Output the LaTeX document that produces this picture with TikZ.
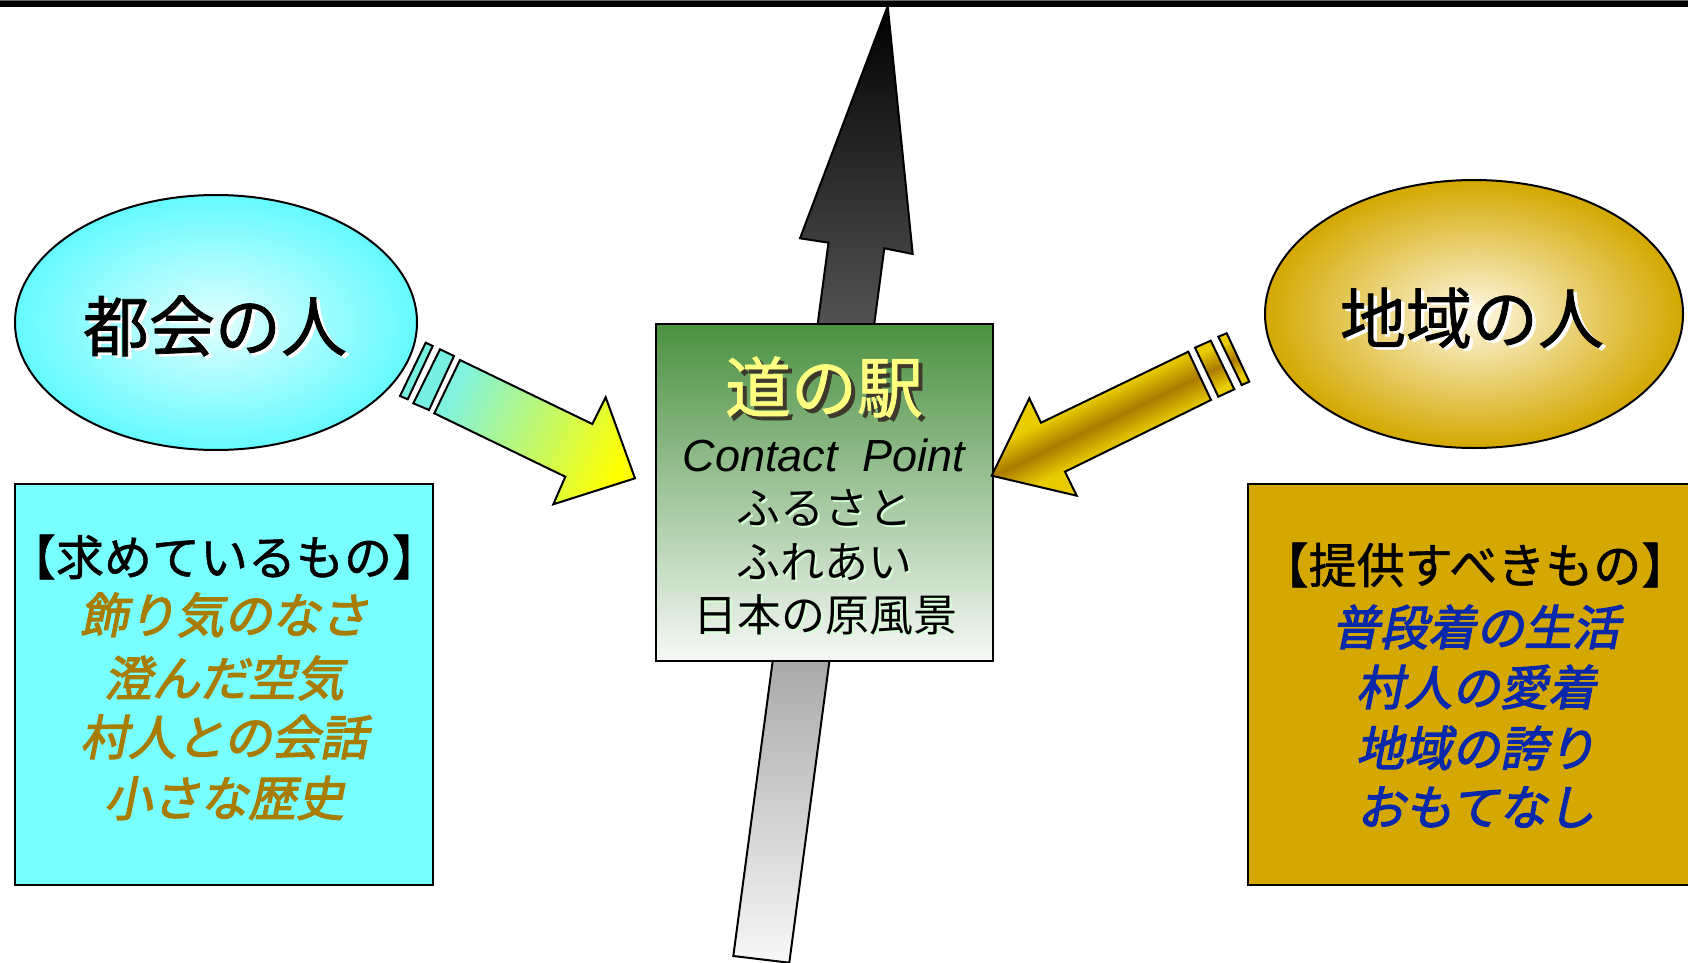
\documentclass[tikz,border=0pt]{standalone}
\usepackage{fontspec}
\setmainfont{Noto Sans CJK JP}
\newfontfamily\jpm[FakeBold=1.1]{Noto Sans CJK JP}
\newfontfamily\jpbi[FakeSlant=0.2,FakeBold=2.6]{Noto Sans CJK JP}
\newfontfamily\lib{Liberation Sans}
\usetikzlibrary{shapes.geometric}
\definecolor{cyanfill}{RGB}{120,255,255}
\definecolor{cyanedge}{RGB}{100,250,255}
\definecolor{cyancenter}{RGB}{225,255,255}
\definecolor{goldfill}{RGB}{212,168,0}
\definecolor{goldcenter}{RGB}{255,248,228}
\definecolor{greentop}{RGB}{75,145,65}
\definecolor{greenbot}{RGB}{246,249,246}
\definecolor{stationyellow}{RGB}{255,255,128}
\definecolor{brownlist}{RGB}{168,124,0}
\definecolor{bluelist}{RGB}{10,40,170}
\definecolor{aqua}{RGB}{128,242,222}
\definecolor{stripeaqua}{RGB}{118,240,225}
\definecolor{goldlight}{RGB}{232,204,0}
\definecolor{golddark}{RGB}{172,122,0}
\pgfdeclareverticalshading{goldband}{100bp}{color(0bp)=(goldlight); color(42bp)=(goldlight); color(50bp)=(golddark); color(58bp)=(goldlight); color(100bp)=(goldlight)}
\pgfdeclareverticalshading{goldbandwide}{100bp}{color(0bp)=(goldlight); color(30bp)=(goldlight); color(50bp)=(golddark); color(70bp)=(goldlight); color(100bp)=(goldlight)}
\tikzset{
  outl/.style={draw=black, line width=2pt, line join=miter},
  bigjp/.style={font=\jpm\fontsize{66}{70}\selectfont, inner sep=0pt},
  midjp/.style={font=\fontsize{44}{48}\selectfont, inner sep=0pt},
  headjp/.style={font=\jpm\fontsize{48}{52}\selectfont, inner sep=0pt},
  listjp/.style={font=\jpbi\fontsize{48}{52}\selectfont, inner sep=0pt},
  shadowtxt/.style={white!85!green},
  leftarrow/.style={outl, left color=aqua, right color=yellow, shading angle=64.2},
  goldarrow/.style={outl, shading=goldband, shading angle=25.7},
  goldstripe/.style={outl, shading=goldbandwide, shading angle=25.7},
}
\begin{document}
\begin{tikzpicture}[x=1pt,y=-1pt]
\useasboundingbox (0,0) rectangle (1688,963);
\fill[white] (0,0) rectangle (1688,963);
% top rule
\fill[black!60] (0,0) rectangle (1688,1.3);
\fill[black] (0,1.3) rectangle (1688,6.8);

% vertical arrow (behind the station box)
\path[outl, top color=black, middle color=black!45, bottom color=black!3]
  (733.3,956) -- (828.5,242.7) -- (800,238.3) -- (887.7,6) -- (912.7,254)
  -- (884.3,248.3) -- (789.3,962.7) -- cycle;

% ellipses
\node[ellipse, outl, inner color=cyancenter, outer color=cyanedge,
      minimum width=402pt, minimum height=255pt, inner sep=0pt] (city) at (216,322.5) {};
\node[ellipse, outl, inner color=goldcenter, outer color=goldfill,
      minimum width=418pt, minimum height=268pt, inner sep=0pt] (local) at (1474,314) {};
\node[bigjp, white] (citysh) at (218.5,328.5) {都会の人};
\node[bigjp] (citytxt) at (215,326) {都会の人};
\node[bigjp, white] (localsh) at (1475.5,320.5) {地域の人};
\node[bigjp] (localtxt) at (1472,318) {地域の人};

% station box
\node[outl, top color=greentop, bottom color=greenbot, minimum width=337pt,
      minimum height=337pt, inner sep=0pt] (station) at (824.5,492.5) {};
\node[bigjp, black!75!olive] (stsh) at (828,391) {道の駅};
\node[bigjp, stationyellow] (sttxt) at (824,387) {道の駅};
\node[font=\lib\itshape\fontsize{45}{48}\selectfont, inner sep=0pt] (cp) at (824,455) {Contact\ \ Point};
\node[midjp, shadowtxt] (l1sh) at (826,510) {ふるさと};
\node[midjp] (l1) at (824,508) {ふるさと};
\node[midjp, shadowtxt] (l2sh) at (826,564) {ふれあい};
\node[midjp] (l2) at (824,562) {ふれあい};
\node[midjp, shadowtxt] (l3sh) at (827,617) {日本の原風景};
\node[midjp] (l3) at (825,615) {日本の原風景};

% left block arrow with stripes
\path[leftarrow] (460,360) -- (592.3,424) -- (605.7,397.3) -- (635,478.3)
  -- (553.3,504.3) -- (565.3,476.7) -- (434.3,413.3) -- cycle;
\path[outl, fill=stripeaqua] (440,349.3) -- (454,356) -- (429,410) -- (413.3,403.3) -- cycle;
\path[outl, fill=stripeaqua] (425.7,342.7) -- (432.7,346) -- (407.7,399.3) -- (400,396) -- cycle;

% right block arrow with stripes
\path[goldarrow] (991.7,475.7) -- (1029.3,398.3) -- (1041,422.7) -- (1188.3,351.7)
  -- (1211,400) -- (1065,471.7) -- (1076.7,495.7) -- cycle;
\path[goldstripe] (1195,347.7) -- (1210.7,340.7) -- (1234.3,389.3) -- (1218.3,396.7) -- cycle;
\path[goldstripe] (1218.3,336.7) -- (1226.7,333.3) -- (1249.3,381.7) -- (1241.7,385) -- cycle;

% left list box
\node[outl, fill=cyanfill, minimum width=418pt, minimum height=401pt, inner sep=0pt]
  (wants) at (224,684.5) {};
\node[headjp] (wantshead) at (224,557) {【求めているもの】};
\node[listjp, brownlist] (w1) at (224,615) {飾り気のなさ};
\node[listjp, brownlist] (w2) at (224,678) {澄んだ空気};
\node[listjp, brownlist] (w3) at (224,737) {村人との会話};
\node[listjp, brownlist] (w4) at (224,798) {小さな歴史};

% right list box
\node[outl, fill=goldfill, minimum width=452pt, minimum height=401pt, inner sep=0pt]
  (offers) at (1474,684.5) {};
\node[headjp] (offershead) at (1475,565) {【提供すべきもの】};
\node[listjp, bluelist] (o1) at (1476,627) {普段着の生活};
\node[listjp, bluelist] (o2) at (1476,687) {村人の愛着};
\node[listjp, bluelist] (o3) at (1476,748) {地域の誇り};
\node[listjp, bluelist] (o4) at (1476,807) {おもてなし};
\end{tikzpicture}
\end{document}
